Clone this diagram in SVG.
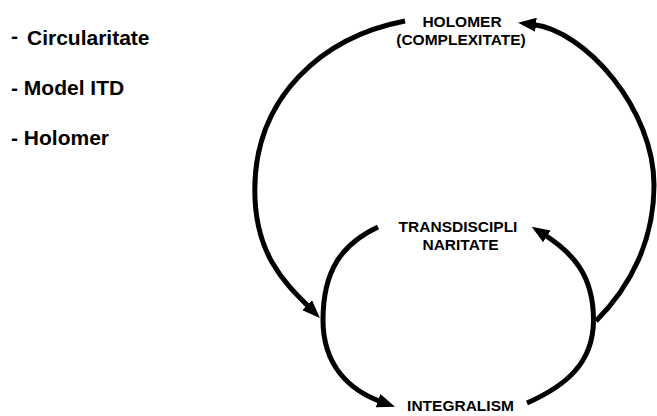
<svg xmlns="http://www.w3.org/2000/svg" width="657" height="416" viewBox="0 0 657 416">
<style>
  .lbl { font-family: "Liberation Sans", Arial, sans-serif; font-weight: bold; fill: #000; }
  .side { font-size: 21px; }
  .node { font-size: 15.5px; text-anchor: middle; }
  .arc { fill: none; stroke: #000; stroke-width: 5; }
</style>
<defs>
  <marker id="ah" markerUnits="userSpaceOnUse" viewBox="0 0 18 14" markerWidth="18" markerHeight="14" refX="4" refY="7" orient="auto">
    <path d="M0,0 L18,7 L0,14 z" fill="#000"/>
  </marker>
</defs>
<g id="side-list">
  <text class="lbl side" x="11" y="43">-</text>
  <text class="lbl side" x="27" y="45">Circularitate</text>
  <text class="lbl side" x="11" y="95">- Model ITD</text>
  <text class="lbl side" x="11" y="145">- Holomer</text>
</g>
<g id="connectors">
  <path class="arc" marker-end="url(#ah)" d="M405,21 C322,37 254.8,97 254.8,190 C254.8,255 285,283 310,308"/>
  <path class="arc" marker-end="url(#ah)" d="M596,321 C631,286 654,240 654,185 C654,110 586.6,30.7 532,24.3"/>
  <path class="arc" marker-end="url(#ah)" d="M378,227 C342,244 323,270 323,320 C323,365 349,390.5 381.8,402"/>
  <path class="arc" marker-end="url(#ah)" d="M527,403 C563,387 593.5,365 593.5,320 C593.5,275 573,253 543.5,234.2"/>
</g>
<g id="node-holomer">
  <text class="lbl node" x="462" y="26.7">HOLOMER</text>
  <text class="lbl node" x="461" y="44.5">(COMPLEXITATE)</text>
</g>
<g id="node-transdisciplinaritate">
  <text class="lbl node" x="458" y="231.7">TRANSDISCIPLI</text>
  <text class="lbl node" x="460.5" y="250">NARITATE</text>
</g>
<g id="node-integralism">
  <text class="lbl node" x="460.5" y="410.7">INTEGRALISM</text>
</g>
</svg>
